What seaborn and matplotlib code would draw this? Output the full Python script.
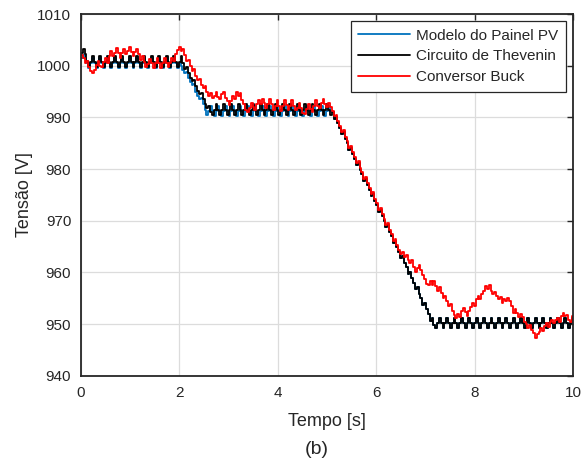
import numpy as np
import pandas as pd
import matplotlib
matplotlib.use('Agg')
import matplotlib.pyplot as plt
import seaborn as sns

# sample step of the simulation staircase [s]
dt = 0.0375

serie_names = ['Modelo do Painel PV', 'Circuito de Thevenin', 'Conversor Buck']
serie_colors = ['#0072BD', '#000000', '#FF0000']

# 0 - 5.1 s, one row = 0.3 s
blue_head = [
    1001.5, 1002.0, 1001.5, 1000.5, 999.5, 1000.5, 1001.5, 1000.5,
    999.5, 1000.5, 1001.5, 1000.5, 999.5, 1000.5, 1001.5, 1000.5,
    999.5, 1000.5, 1001.5, 1000.5, 999.5, 1000.5, 1001.5, 1000.5,
    999.5, 1000.5, 1001.5, 1000.5, 999.5, 1000.5, 1001.5, 1000.5,
    999.5, 1000.5, 1001.5, 1000.5, 999.5, 1000.5, 1001.5, 1000.5,
    999.5, 1000.5, 1001.5, 1000.5, 999.5, 1000.5, 1001.5, 1000.5,
    999.5, 1000.5, 1001.5, 1000.5, 999.5, 1000.5, 1000.0, 999.2,
    998.5, 998.8, 997.6, 996.8, 996.2, 996.4, 995.0, 994.2,
    993.5, 993.8, 992.5, 991.5, 990.5, 991.3, 992.3, 991.3,
    990.3, 991.3, 992.3, 991.3, 990.3, 991.3, 992.3, 991.3,
    990.3, 991.3, 992.3, 991.3, 990.3, 991.3, 992.3, 991.3,
    990.3, 991.3, 992.3, 991.3, 990.3, 991.3, 992.3, 991.3,
    990.3, 991.3, 992.3, 991.3, 990.3, 991.3, 992.3, 991.3,
    990.3, 991.3, 992.3, 991.3, 990.3, 991.3, 992.3, 991.3,
    990.3, 991.3, 992.3, 991.3, 990.3, 991.3, 992.3, 991.3,
    990.3, 991.3, 992.3, 991.3, 990.3, 991.3, 992.3, 991.3,
    990.3, 991.3, 992.3, 991.3, 990.3, 991.3, 992.3, 991.3,
]

black_head = [
    1002.5, 1003.2, 1002.2, 1001.0, 1000.0, 1000.8, 1001.8, 1000.8,
    999.8, 1000.8, 1001.8, 1000.8, 999.8, 1000.8, 1001.8, 1000.8,
    999.8, 1000.8, 1001.8, 1000.8, 999.8, 1000.8, 1001.8, 1000.8,
    999.8, 1000.8, 1001.8, 1000.8, 999.8, 1000.8, 1001.8, 1000.8,
    999.8, 1000.8, 1001.8, 1000.8, 999.8, 1000.8, 1001.8, 1000.8,
    999.8, 1000.8, 1001.8, 1000.8, 999.8, 1000.8, 1001.8, 1000.8,
    999.8, 1000.8, 1001.8, 1000.8, 999.8, 1000.8, 1001.8, 1000.6,
    999.4, 999.8, 998.6, 997.6, 997.0, 997.3, 996.1, 995.2,
    994.5, 994.8, 993.6, 992.6, 991.8, 992.2, 991.0, 990.5,
    991.5, 992.5, 991.5, 990.5, 991.5, 992.5, 991.5, 990.5,
    991.5, 992.5, 991.5, 990.5, 991.5, 992.5, 991.5, 990.5,
    991.5, 992.5, 991.5, 990.5, 991.5, 992.5, 991.5, 990.5,
    991.5, 992.5, 991.5, 990.5, 991.5, 992.5, 991.5, 990.5,
    991.5, 992.5, 991.5, 990.5, 991.5, 992.5, 991.5, 990.5,
    991.5, 992.5, 991.5, 990.5, 991.5, 992.5, 991.5, 990.5,
    991.5, 992.5, 991.5, 990.5, 991.5, 992.5, 991.5, 990.5,
    991.5, 992.5, 991.5, 990.5, 991.5, 992.5, 991.5, 990.5,
]

red_head = [
    1002.0, 1001.5, 1000.5, 1001.0, 999.8, 999.0, 998.5, 999.2,
    1000.2, 1001.0, 1000.0, 999.8, 1000.8, 1001.5, 1000.5, 1001.8,
    1002.8, 1001.8, 1002.5, 1003.5, 1002.5, 1001.5, 1002.5, 1003.3,
    1002.3, 1002.8, 1003.7, 1002.7, 1001.8, 1002.6, 1003.2, 1002.2,
    1001.2, 1001.8, 1000.8, 999.8, 1000.3, 1001.3, 1000.5, 999.5,
    1000.5, 1001.5, 1000.5, 999.5, 1000.5, 1001.5, 1000.5, 999.7,
    1000.5, 1001.5, 1001.0, 1002.2, 1003.0, 1003.7, 1002.8, 1003.2,
    1002.0, 1001.0, 1001.2, 1000.0, 999.0, 999.3, 998.0, 997.2,
    997.5, 996.3, 995.6, 996.0, 995.0, 994.2, 994.8, 993.8,
    994.2, 994.9, 994.0, 993.5, 994.5, 994.9, 993.8, 993.2,
    992.4, 993.2, 994.2, 993.5, 994.9, 994.2, 994.8, 993.4,
    992.5, 991.5, 991.0, 991.8, 992.8, 992.0, 991.5, 992.5,
    993.4, 992.6, 993.6, 992.8, 991.8, 992.5, 993.5, 992.5,
    991.5, 992.3, 993.3, 992.3, 991.3, 992.3, 993.4, 992.4,
    991.4, 992.2, 993.3, 992.3, 991.5, 991.8, 992.8, 991.8,
    990.8, 990.6, 991.6, 992.6, 991.6, 991.0, 992.3, 993.3,
    992.3, 991.8, 992.8, 993.5, 992.6, 992.0, 992.8, 992.0,
]

# 5.1 - 10 s, PV model and Thevenin overlap
common_tail = [
    991.0, 989.7, 990.1, 988.9, 988.0, 986.7, 987.1, 985.9,
    985.0, 983.7, 984.1, 982.9, 982.0, 980.7, 981.1, 979.9,
    979.0, 977.7, 978.1, 976.9, 976.0, 974.7, 975.1, 973.9,
    973.0, 971.7, 972.1, 970.9, 970.0, 968.7, 969.1, 967.9,
    967.0, 965.7, 966.1, 964.9, 964.0, 962.7, 963.1, 961.9,
    961.0, 959.7, 960.1, 958.9, 958.0, 956.7, 957.1, 955.9,
    955.0, 953.7, 954.1, 952.9, 952.0, 950.7, 951.1, 949.9,
    949.3, 950.2, 951.2, 950.2, 949.3, 950.2, 951.2, 950.2,
    949.3, 950.2, 951.2, 950.2, 949.3, 950.2, 951.2, 950.2,
    949.3, 950.2, 951.2, 950.2, 949.3, 950.2, 951.2, 950.2,
    949.3, 950.2, 951.2, 950.2, 949.3, 950.2, 951.2, 950.2,
    949.3, 950.2, 951.2, 950.2, 949.3, 950.2, 951.2, 950.2,
    949.3, 950.2, 951.2, 950.2, 949.3, 950.2, 951.2, 950.2,
    949.3, 950.2, 951.2, 950.2, 949.3, 950.2, 951.2, 950.2,
    949.3, 950.2, 951.2, 950.2, 949.3, 950.2, 951.2, 950.2,
    949.3, 950.2, 951.2, 950.2, 949.3, 950.2, 951.2, 950.2,
    949.3, 950.2, 951.2, 950.2,
]

red_tail = [
    991.2, 990.2, 990.5, 989.3, 988.4, 987.1, 987.5, 986.3,
    985.4, 984.1, 984.5, 983.3, 982.4, 981.1, 981.5, 980.3,
    979.4, 978.1, 978.5, 977.3, 976.4, 975.1, 975.5, 974.3,
    973.4, 972.1, 972.5, 971.3, 970.4, 969.1, 969.5, 968.3,
    967.4, 966.1, 966.5, 965.3, 964.4, 963.5, 964.0, 963.0,
    963.3, 962.5, 961.8, 962.5, 961.0, 960.0, 960.8, 961.5,
    960.5, 959.5, 958.8, 957.8, 957.5, 958.3, 957.5, 958.4,
    957.4, 956.5, 957.2, 956.0, 955.0, 955.5, 954.4, 953.5,
    953.8, 952.6, 951.8, 951.2, 952.0, 951.3, 952.5, 953.1,
    952.3, 951.5, 952.5, 953.3, 954.0, 953.5, 954.8, 955.5,
    954.8, 955.8, 956.5, 957.4, 956.8, 957.5, 956.5, 955.8,
    956.2, 955.4, 954.8, 955.3, 954.1, 954.8, 954.5, 955.0,
    954.5, 953.5, 952.2, 953.0, 952.2, 951.4, 952.0, 951.4,
    950.5, 950.0, 949.2, 949.8, 948.8, 948.2, 947.3, 948.0,
    948.5, 949.2, 948.6, 949.6, 950.3, 949.5, 950.5, 950.8,
    950.2, 950.8, 951.2, 950.5, 951.5, 952.2, 951.5, 951.8,
    950.8, 950.5, 951.5, 950.5,
]

series = {
    'Modelo do Painel PV': blue_head + common_tail,
    'Circuito de Thevenin': black_head + common_tail,
    'Conversor Buck': red_head + red_tail,
}

rows = []
for name in serie_names:
    for i, v in enumerate(series[name]):
        rows.append((i * dt, v, name))
df = pd.DataFrame(rows, columns=['Tempo', 'Tensao', 'Serie'])

sns.set_style('white')
plt.rcParams['font.family'] = ['Liberation Sans', 'DejaVu Sans']

fig = plt.figure(figsize=(5.82, 4.68), dpi=100)
ax = fig.add_axes([0.139, 0.197, 0.8455, 0.773])

sns.lineplot(data=df, x='Tempo', y='Tensao', hue='Serie', hue_order=serie_names,
             palette=serie_colors, estimator=None, sort=False,
             drawstyle='steps-post', lw=1.3, ax=ax)

ax.set_xlim(0, 10)
ax.set_ylim(940, 1010)
ax.set_xticks(np.arange(0, 11, 2))
ax.set_yticks(np.arange(940, 1011, 10))
ax.grid(True, color='#dcdcdc', lw=0.9)
ax.set_axisbelow(True)
for sp in ax.spines.values():
    sp.set_color('#262626')
    sp.set_linewidth(1.3)
ax.tick_params(direction='in', top=True, right=True, length=4, width=1.0,
               labelsize=11, labelcolor='#262626', pad=7)

ax.set_xlabel('Tempo [s]', fontsize=13, color='#262626', labelpad=10)
ax.set_ylabel('Tensão [V]', fontsize=13, color='#262626', labelpad=3)

ax.legend(loc='upper right', frameon=True, fancybox=False, edgecolor='#262626',
          fontsize=11, borderaxespad=0.45, handlelength=3.4, handletextpad=0.4,
          labelspacing=0.45, borderpad=0.5, framealpha=1)
ax.get_legend().get_frame().set_linewidth(0.9)

fig.text(0.545, 0.04, '(b)', fontsize=14, ha='center', va='center', color='#262626')

fig.savefig('out.png', dpi=100)
